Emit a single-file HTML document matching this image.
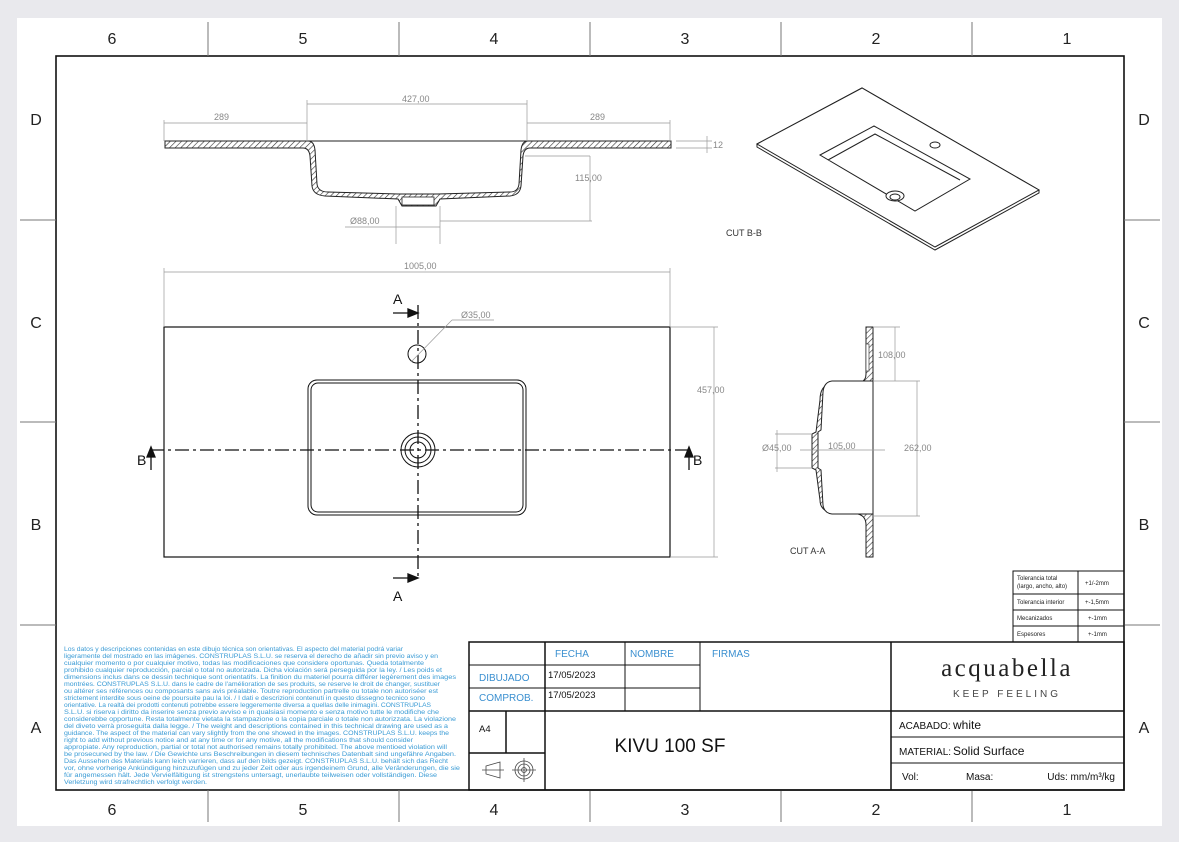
<!DOCTYPE html>
<html><head><meta charset="utf-8"><style>
html,body{margin:0;padding:0;background:#e9e9ed;}
svg{display:block;}
text{font-family:"Liberation Sans",sans-serif;}
</style></head><body>
<svg width="1179" height="842" viewBox="0 0 1179 842" xmlns="http://www.w3.org/2000/svg">
<defs>
<pattern id="h" width="4" height="4" patternUnits="userSpaceOnUse" patternTransform="rotate(45)">
<rect width="4" height="4" fill="#fff"/><line x1="0" y1="0" x2="0" y2="4" stroke="#333" stroke-width="1.2"/>
</pattern>
</defs>
<rect x="0" y="0" width="1179" height="842" fill="#e9e9ed"/>
<rect x="17" y="18" width="1145" height="808" fill="#fff"/>
<!-- frame -->
<rect x="56" y="56" width="1068" height="734" fill="none" stroke="#111" stroke-width="1.6"/>
<g stroke="#777" stroke-width="1">
<line x1="208" y1="22" x2="208" y2="56"/><line x1="399" y1="22" x2="399" y2="56"/><line x1="590" y1="22" x2="590" y2="56"/><line x1="781" y1="22" x2="781" y2="56"/><line x1="972" y1="22" x2="972" y2="56"/>
<line x1="208" y1="790" x2="208" y2="822"/><line x1="399" y1="790" x2="399" y2="822"/><line x1="590" y1="790" x2="590" y2="822"/><line x1="781" y1="790" x2="781" y2="822"/><line x1="972" y1="790" x2="972" y2="822"/>
<line x1="20" y1="220" x2="56" y2="220"/><line x1="20" y1="422" x2="56" y2="422"/><line x1="20" y1="625" x2="56" y2="625"/>
<line x1="1124" y1="220" x2="1160" y2="220"/><line x1="1124" y1="422" x2="1160" y2="422"/><line x1="1124" y1="625" x2="1160" y2="625"/>
</g>
<g font-size="16" fill="#222" text-anchor="middle">
<text x="112" y="44">6</text><text x="303" y="44">5</text><text x="494" y="44">4</text><text x="685" y="44">3</text><text x="876" y="44">2</text><text x="1067" y="44">1</text>
<text x="112" y="815">6</text><text x="303" y="815">5</text><text x="494" y="815">4</text><text x="685" y="815">3</text><text x="876" y="815">2</text><text x="1067" y="815">1</text>
<text x="36" y="125">D</text><text x="36" y="328">C</text><text x="36" y="530">B</text><text x="36" y="733">A</text>
<text x="1144" y="125">D</text><text x="1144" y="328">C</text><text x="1144" y="530">B</text><text x="1144" y="733">A</text>
</g>

<!-- top section -->
<path d="M165 141 H671 V148 H530 Q524 148 523 156 L521 186 Q520 195 510 196 L440 199 L436 206 H402 L398 199 L325 196 Q313 195 312 186 L310 156 Q309 148 303 148 H165 Z" fill="url(#h)" stroke="#222" stroke-width="1"/>
<path d="M308 141 Q314 141 315 150 L317 184 Q318 192 328 192 L398 194 H438 L510 192 Q518 192 519 184 L521 150 Q522 141 528 141 Z" fill="#fff" stroke="#222" stroke-width="1"/>
<rect x="402" y="197" width="32" height="8" fill="#fff" stroke="#222" stroke-width="0.8"/>
<g stroke="#999" stroke-width="0.7" fill="none">
<line x1="164" y1="123" x2="307" y2="123"/><line x1="164" y1="120" x2="164" y2="141"/><line x1="307" y1="100" x2="307" y2="141"/>
<line x1="307" y1="104" x2="527" y2="104"/><line x1="527" y1="100" x2="527" y2="141"/>
<line x1="527" y1="123" x2="670" y2="123"/><line x1="670" y1="120" x2="670" y2="141"/>
<line x1="676" y1="141" x2="712" y2="141"/><line x1="676" y1="148" x2="712" y2="148"/><line x1="707" y1="136" x2="707" y2="153"/>
<line x1="525" y1="156" x2="590" y2="156"/><line x1="590" y1="156" x2="590" y2="221"/><line x1="440" y1="221" x2="592" y2="221"/>
<line x1="396" y1="206" x2="396" y2="244"/><line x1="440" y1="206" x2="440" y2="244"/><line x1="345" y1="227" x2="440" y2="227"/>
</g>
<g font-size="9" fill="#888">
<text x="214" y="120">289</text><text x="402" y="102">427,00</text><text x="590" y="120">289</text><text x="713" y="148">12</text><text x="575" y="181">115,00</text><text x="350" y="224">Ø88,00</text>
</g>
<text x="726" y="236" font-size="9" fill="#333">CUT B-B</text>

<!-- isometric -->
<g fill="#fff" stroke="#222" stroke-width="1">
<path d="M757 144 L862 88 L1039 190 L1039 193 L935 250 L757 147 Z"/>
<path d="M757 144 L862 88 L1039 190 L935 247 Z" />
<path d="M820 155 L874 126 L970 179 L915 211 Z"/>
<path d="M828 160 L875 134 L960 180"/>
<ellipse cx="935" cy="145" rx="5" ry="3"/>
<ellipse cx="895" cy="196" rx="9" ry="5"/><ellipse cx="895" cy="197" rx="5" ry="3"/>
</g>

<!-- plan view -->
<g fill="none" stroke="#111">
<rect x="164" y="327" width="506" height="230" stroke-width="1.2"/>
<rect x="308" y="380" width="218" height="135" rx="9" stroke-width="1"/>
<rect x="311" y="383" width="212" height="129" rx="7" stroke-width="1"/>
<circle cx="418" cy="450" r="17" stroke-width="1"/><circle cx="418" cy="450" r="13" stroke-width="1"/><circle cx="418" cy="450" r="8" stroke-width="1"/>
<circle cx="417" cy="354" r="9" stroke-width="1"/>
<line x1="150" y1="450" x2="690" y2="450" stroke-width="1.3" stroke-dasharray="14,4,3,4"/>
<line x1="418" y1="305" x2="418" y2="580" stroke-width="1.3" stroke-dasharray="14,4,3,4"/>
</g>
<g stroke="#111" stroke-width="1.3" fill="#111">
<line x1="393" y1="313" x2="410" y2="313"/><path d="M418 313 L408 309 L408 317 Z"/>
<line x1="393" y1="578" x2="410" y2="578"/><path d="M418 578 L408 574 L408 582 Z"/>
<line x1="151" y1="470" x2="151" y2="455"/><path d="M151 447 L147 457 L155 457 Z"/>
<line x1="689" y1="470" x2="689" y2="455"/><path d="M689 447 L685 457 L693 457 Z"/>
</g>
<g font-size="14" fill="#111"><text x="393" y="304">A</text><text x="393" y="601">A</text><text x="137" y="465">B</text><text x="693" y="465">B</text></g>
<g stroke="#999" stroke-width="0.7" fill="none">
<line x1="164" y1="272" x2="670" y2="272"/><line x1="164" y1="268" x2="164" y2="327"/><line x1="670" y1="268" x2="670" y2="327"/>
<line x1="670" y1="327" x2="718" y2="327"/><line x1="670" y1="557" x2="718" y2="557"/><line x1="714" y1="327" x2="714" y2="557"/>
<line x1="411" y1="362" x2="452" y2="320"/><line x1="452" y1="320" x2="494" y2="320"/>
</g>
<g font-size="9" fill="#888"><text x="404" y="269">1005,00</text><text x="461" y="318">Ø35,00</text><text x="697" y="393">457,00</text></g>

<!-- cut A-A -->
<path d="M866 327 H873 V557 H866 V525 Q866 516 858 514 L830 512 Q820 510 820 500 L816 470 L812 468 V434 L816 432 L820 400 Q820 386 830 384 L858 383 Q866 382 866 374 Z" fill="url(#h)" stroke="#222" stroke-width="1"/>
<path d="M873 381 H832 Q824 382 823 392 L821 430 L818 432 V468 L821 470 L823 505 Q824 513 832 514 H873 Z" fill="#fff" stroke="#222" stroke-width="1"/>
<rect x="866" y="344" width="3" height="27" fill="#fff" stroke="#222" stroke-width="0.6"/>
<g stroke="#999" stroke-width="0.7" fill="none">
<line x1="873" y1="327" x2="900" y2="327"/><line x1="873" y1="381" x2="920" y2="381"/><line x1="895" y1="327" x2="895" y2="381"/>
<line x1="873" y1="516" x2="920" y2="516"/><line x1="917" y1="381" x2="917" y2="516"/>
<line x1="775" y1="434" x2="812" y2="434"/><line x1="775" y1="468" x2="812" y2="468"/><line x1="777" y1="430" x2="777" y2="472"/>
<line x1="800" y1="450" x2="885" y2="450"/>
</g>
<g font-size="9" fill="#888"><text x="878" y="358">108,00</text><text x="762" y="451">Ø45,00</text><text x="828" y="449">105,00</text><text x="904" y="451">262,00</text></g>
<text x="790" y="554" font-size="9" fill="#333">CUT A-A</text>

<!-- tolerance table -->
<g fill="none" stroke="#111" stroke-width="1">
<rect x="1013" y="571" width="111" height="71"/>
<line x1="1078" y1="571" x2="1078" y2="642"/>
<line x1="1013" y1="594" x2="1124" y2="594"/><line x1="1013" y1="610" x2="1124" y2="610"/><line x1="1013" y1="626" x2="1124" y2="626"/>
</g>
<g font-size="6" fill="#222">
<text x="1017" y="580">Tolerancia total</text><text x="1017" y="588">(largo, ancho, alto)</text><text x="1085" y="585">+1/-2mm</text>
<text x="1017" y="604">Tolerancia interior</text><text x="1085" y="604">+-1,5mm</text>
<text x="1017" y="620">Mecanizados</text><text x="1088" y="620">+-1mm</text>
<text x="1017" y="636">Espesores</text><text x="1088" y="636">+-1mm</text>
</g>

<!-- title block -->
<g fill="none" stroke="#111" stroke-width="1.5">
<rect x="469" y="642" width="655" height="148"/>
<line x1="469" y1="711" x2="1124" y2="711"/>
<line x1="891" y1="642" x2="891" y2="790"/>
<line x1="545" y1="642" x2="545" y2="790"/>
<line x1="469" y1="753" x2="545" y2="753"/>
<line x1="506" y1="711" x2="506" y2="753"/>
</g>
<g fill="none" stroke="#111" stroke-width="1">
<line x1="625" y1="642" x2="625" y2="711"/><line x1="700" y1="642" x2="700" y2="711"/>
<line x1="469" y1="665" x2="700" y2="665"/><line x1="469" y1="688" x2="700" y2="688"/>
<line x1="891" y1="737" x2="1124" y2="737"/><line x1="891" y1="763" x2="1124" y2="763"/>
</g>
<g font-size="10" fill="#3a8fd0">
<text x="555" y="657">FECHA</text><text x="630" y="657">NOMBRE</text><text x="712" y="657">FIRMAS</text>
<text x="479" y="681">DIBUJADO</text><text x="479" y="701">COMPROB.</text>
</g>
<g font-size="9.5" fill="#111"><text x="548" y="678">17/05/2023</text><text x="548" y="698">17/05/2023</text><text x="479" y="732">A4</text></g>
<text x="670" y="752" font-size="19" fill="#111" text-anchor="middle">KIVU 100 SF</text>
<text x="1007" y="676" text-anchor="middle" style="font-family:'Liberation Serif',serif;font-size:25px;letter-spacing:2.5px;fill:#222">acquabella</text>
<text x="1007" y="697" font-size="10" fill="#444" text-anchor="middle" letter-spacing="3">KEEP FEELING</text>
<g font-size="10" fill="#111">
<text x="899" y="729">ACABADO:</text><text x="953" y="729" font-size="12">white</text>
<text x="899" y="755">MATERIAL:</text><text x="953" y="755" font-size="12">Solid Surface</text>
<text x="902" y="780">Vol:</text><text x="966" y="780">Masa:</text><text x="1115" y="780" text-anchor="end">Uds: mm/m³/kg</text>
</g>
<!-- projection symbol -->
<g fill="none" stroke="#444" stroke-width="0.8">
<path d="M486 766 L500 762 V778 L486 774 Z"/><line x1="482" y1="770" x2="504" y2="770"/>
<circle cx="524" cy="770" r="9"/><circle cx="524" cy="770" r="6"/><circle cx="524" cy="770" r="2.5"/>
<line x1="512" y1="770" x2="536" y2="770"/><line x1="524" y1="758" x2="524" y2="782"/>
</g>

<!-- legal text -->
<g font-size="6.2" fill="#3a9bd5" lengthAdjust="spacingAndGlyphs">
<text x="64" y="651" textLength="339" lengthAdjust="spacingAndGlyphs">Los datos y descripciones contenidas en este dibujo técnica son orientativas. El aspecto del material podrá variar</text>
<text x="64" y="658" textLength="374" lengthAdjust="spacingAndGlyphs">ligeramente del mostrado en las imágenes. CONSTRUPLAS S.L.U. se reserva el derecho de añadir sin previo aviso y en</text>
<text x="64" y="665" textLength="360" lengthAdjust="spacingAndGlyphs">cualquier momento o por cualquier motivo, todas las modificaciones que considere oportunas. Queda totalmente</text>
<text x="64" y="672" textLength="378" lengthAdjust="spacingAndGlyphs">prohibido cualquier reproducción, parcial o total no autorizada. Dicha violación será perseguida por la ley. / Les poids et</text>
<text x="64" y="679" textLength="392" lengthAdjust="spacingAndGlyphs">dimensions inclus dans ce dessin technique sont orientatifs. La finition du materiel pourra différer legèrement des images</text>
<text x="64" y="686" textLength="376" lengthAdjust="spacingAndGlyphs">montrées. CONSTRUPLAS S.L.U. dans le cadre de l'amélioration de ses produits, se reserve le droit de changer, sustituer</text>
<text x="64" y="693" textLength="374" lengthAdjust="spacingAndGlyphs">ou altérer ses références ou composants sans avis préalable. Toutre reproduction partrelle ou totale non autoriséer est</text>
<text x="64" y="700" textLength="361" lengthAdjust="spacingAndGlyphs">strictement interdite sous oeine de poursuite pau la loi. / I dati e descrizioni contenuti in questo dissegno tecnico sono</text>
<text x="64" y="707" textLength="367" lengthAdjust="spacingAndGlyphs">orientative. La realtà dei prodotti contenuti potrebbe essere leggeremente diversa a quellas delle inimagini. CONSTRUPLAS</text>
<text x="64" y="714" textLength="375" lengthAdjust="spacingAndGlyphs">S.L.U. si riserva i diritto da inserire senza previo avviso e in qualsiasi momento e senza motivo tutte le modifiche che</text>
<text x="64" y="721" textLength="392" lengthAdjust="spacingAndGlyphs">considerebbe opportune. Resta totalmente vietata la stampazione o la copia parciale o totale non autorizzata. La violazione</text>
<text x="64" y="728" textLength="384" lengthAdjust="spacingAndGlyphs">del diveto verrà proseguita dalla legge. / The weight and descriptions contained in this technical drawing are used as a</text>
<text x="64" y="735" textLength="385" lengthAdjust="spacingAndGlyphs">guidance. The aspect of the material can vary slightly from the one showed in the images. CONSTRUPLAS S.L.U. keeps the</text>
<text x="64" y="742" textLength="349" lengthAdjust="spacingAndGlyphs">right to add without previous notice and at any time or for any motive, all the modifications that should consider</text>
<text x="64" y="749" textLength="383" lengthAdjust="spacingAndGlyphs">appropiate. Any reproduction, partial or total not authorised remains totally prohibited. The above mentioed violation will</text>
<text x="64" y="756" textLength="392" lengthAdjust="spacingAndGlyphs">be prosecuned by the law. / Die Gewichte uns Beschreibungen in diesem technisches Datenbalt sind ungefähre Angaben.</text>
<text x="64" y="763" textLength="384" lengthAdjust="spacingAndGlyphs">Das Aussehen des Materials kann leich varrieren, dass auf den bilds gezeigt. CONSTRUPLAS S.L.U. behält sich das Recht</text>
<text x="64" y="770" textLength="396" lengthAdjust="spacingAndGlyphs">vor, ohne vorherige Ankündigung hinzuzufügen und zu jeder Zeit oder aus irgendeinem Grund, alle Veränderungen, die sie</text>
<text x="64" y="777" textLength="373" lengthAdjust="spacingAndGlyphs">für angemessen hält. Jede Vervielfältigung ist strengstens untersagt, unerlaubte teilweisen oder vollständigen. Diese</text>
<text x="64" y="784" textLength="143" lengthAdjust="spacingAndGlyphs">Verletzung wird strafrechtlich verfolgt werden.</text>
</g>
</svg>
</body></html>
